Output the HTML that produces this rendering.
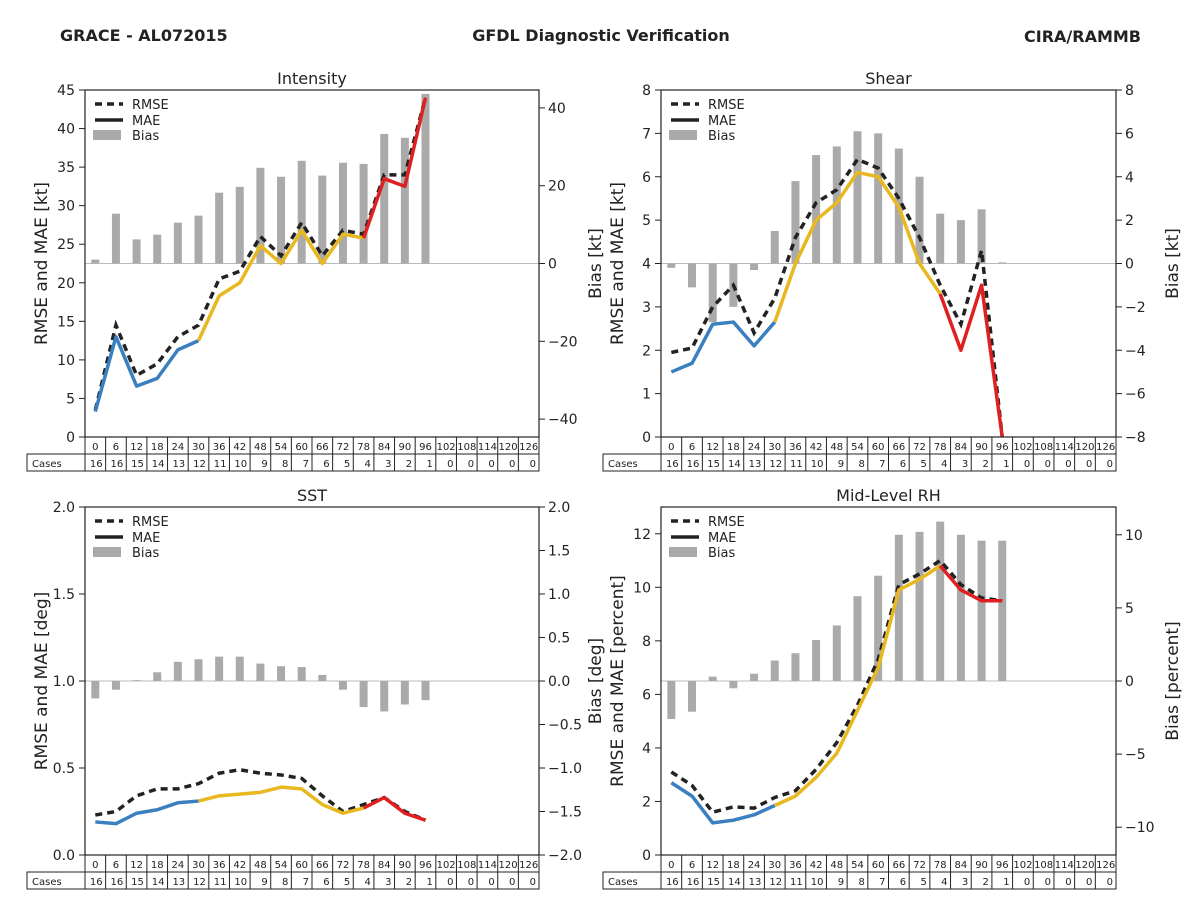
<!DOCTYPE html>
<html><head><meta charset="utf-8"><style>
body{margin:0;background:#fff;}
svg{display:block;font-family:"DejaVu Sans","Liberation Sans",sans-serif;}
</style></head><body>
<svg id="fig" width="1200" height="900" viewBox="0 0 1200 900">
<text x="60" y="41" font-size="16" font-weight="bold" fill="#222">GRACE - AL072015</text>
<text x="601" y="41" font-size="16" font-weight="bold" fill="#222" text-anchor="middle">GFDL Diagnostic Verification</text>
<text x="1141" y="42" font-size="16" font-weight="bold" fill="#222" text-anchor="end">CIRA/RAMMB</text>
</svg>
<script>
const hours=[0,6,12,18,24,30,36,42,48,54,60,66,72,78,84,90,96,102,108,114,120,126];
const cases=[16,16,15,14,13,12,11,10,9,8,7,6,5,4,3,2,1,0,0,0,0,0];
const intRmse=[3.5,14.5,8,9.5,13,14.5,20.5,21.5,26,23.5,27.8,23.5,26.8,26.3,34,34,44];
const intMae=[3.3,13,6.6,7.6,11.3,12.5,18.3,20,24.8,22.5,26.8,22.5,26.3,25.8,33.5,32.5,44];
const intBias=[1,12.8,6.2,7.4,10.5,12.3,18.2,19.7,24.6,22.3,26.4,22.6,25.9,25.6,33.3,32.3,43.6];
const shrRmse=[1.95,2.05,3.0,3.5,2.4,3.2,4.6,5.4,5.7,6.4,6.2,5.5,4.6,3.5,2.6,4.3,0];
const shrMae=[1.5,1.7,2.6,2.65,2.1,2.65,4.0,5.0,5.4,6.1,6.0,5.3,4.0,3.3,2.0,3.5,0];
const shrBias=[-0.2,-1.1,-2.7,-2.0,-0.3,1.5,3.8,5.0,5.4,6.1,6.0,5.3,4.0,2.3,2.0,2.5,0.05];
const sstRmse=[0.23,0.25,0.34,0.38,0.38,0.41,0.47,0.49,0.47,0.46,0.44,0.34,0.25,0.29,0.33,0.25,0.2];
const sstMae=[0.19,0.18,0.24,0.26,0.30,0.31,0.34,0.35,0.36,0.39,0.38,0.29,0.24,0.27,0.33,0.24,0.2];
const sstBias=[-0.2,-0.1,0.01,0.1,0.22,0.25,0.28,0.28,0.2,0.17,0.16,0.07,-0.1,-0.3,-0.35,-0.27,-0.22];
const rhRmse=[3.1,2.6,1.6,1.8,1.75,2.15,2.4,3.2,4.2,5.6,7.3,10.1,10.5,11.0,10.1,9.6,9.5];
const rhMae=[2.7,2.2,1.2,1.3,1.5,1.85,2.2,2.9,3.8,5.4,7.0,9.9,10.3,10.8,9.9,9.5,9.5];
const rhBias=[-2.6,-2.1,0.3,-0.5,0.5,1.4,1.9,2.8,3.8,5.8,7.2,10.0,10.2,10.9,10.0,9.6,9.6];

const NS='http://www.w3.org/2000/svg';
const svg=document.getElementById('fig');
function mk(tag,attrs,parent,name,inter){const e=document.createElementNS(NS,tag);for(const k in attrs)e.setAttribute(k,attrs[k]);


(parent||svg).appendChild(e);return e;}
function fmt(v,d){let s=v.toFixed(d);if(v<0)s='\u2212'+s.slice(1);return s;}

function panel(p){
  const g=mk('g',{},svg,'panel-'+p.id,false);
  const L=p.x0,R=p.x1,T=p.y0,B=p.y1,W=R-L,cw=W/22;
  const xs=i=>L+cw*(i+0.5);
  const yl=v=>B-(v-0)/(p.lmax)*(B-T);
  const yr=v=>B-(v-p.rmin)/(p.rmax-p.rmin)*(B-T);
  const t=mk('text',{x:(L+R)/2,y:T-6,'font-size':16,'text-anchor':'middle',fill:'#222'},g,'panel-title',false);t.textContent=p.title;
  // bars
  const zero=yr(0);
  mk('line',{x1:L,x2:R,y1:zero,y2:zero,stroke:'#bbb','stroke-width':1},g,'bias-zero-line',false);
  p.bias.forEach((v,i)=>{const y=yr(v);
    mk('rect',{x:xs(i)-4,y:Math.min(y,zero),width:8,height:Math.abs(y-zero),fill:'#aaa'},g,'bias-bar-'+hours[i],false);});
  // rmse
  const pts=p.rmse.map((v,i)=>xs(i)+','+yl(v)).join(' ');
  mk('polyline',{points:pts,fill:'none',stroke:'#222','stroke-width':3.5,'stroke-dasharray':'7,5'},g,'rmse-line',false);
  // mae segments
  const segs=[[0,5,'#3a7fc0'],[5,13,'#e8b820'],[13,16,'#e02020']];
  segs.forEach(s=>{const a=[];for(let i=s[0];i<=s[1];i++)a.push(xs(i)+','+yl(p.mae[i]));
    mk('polyline',{points:a.join(' '),fill:'none',stroke:s[2],'stroke-width':3.5,'stroke-linejoin':'round'},g,'mae-line-segment',false);});
  mk('rect',{x:L,y:T,width:W,height:B-T,fill:'none',stroke:'#222','stroke-width':1.2},g,'plot-frame',false);
  // left ticks
  p.lticks.forEach(v=>{const y=yl(v);
    mk('line',{x1:L-6,x2:L,y1:y,y2:y,stroke:'#222'},g,'left-tick',false);
    const tx=mk('text',{x:L-10,y:y+5,'font-size':14,'text-anchor':'end',fill:'#222'},g,'left-tick-label',false);tx.textContent=fmt(v,p.ld);});
  p.rticks.forEach(v=>{const y=yr(v);
    mk('line',{x1:R,x2:R+6,y1:y,y2:y,stroke:'#222'},g,'right-tick',false);
    const tx=mk('text',{x:R+9,y:y+5,'font-size':14,fill:'#222'},g,'right-tick-label',false);tx.textContent=fmt(v,p.rd);});
  const ly=mk('text',{x:0,y:0,'font-size':17,'text-anchor':'middle',fill:'#222',transform:`translate(${L-38},${(T+B)/2}) rotate(-90)`},g,'left-axis-title',false);ly.textContent=p.ltitle;
  const ry=mk('text',{x:0,y:0,'font-size':17,'text-anchor':'middle',fill:'#222',transform:`translate(${R+62},${(T+B)/2}) rotate(-90)`},g,'right-axis-title',false);ry.textContent=p.rtitle;
  // legend
  const lg=mk('g',{},g,'legend',false);
  mk('line',{x1:L+10,x2:L+38,y1:T+14,y2:T+14,stroke:'#222','stroke-width':3.5,'stroke-dasharray':'7,5'},lg,'legend-rmse-swatch',false);
  mk('line',{x1:L+10,x2:L+38,y1:T+30,y2:T+30,stroke:'#222','stroke-width':3.5},lg,'legend-mae-swatch',false);
  mk('rect',{x:L+8,y:T+40,width:28,height:10,fill:'#aaa'},lg,'legend-bias-swatch',false);
  [['RMSE',T+19],['MAE',T+35],['Bias',T+50]].forEach(a=>{const tx=mk('text',{x:L+47,y:a[1],'font-size':13,fill:'#222'},lg,'legend-entry',false);tx.textContent=a[0];});
  // table
  const tb=mk('g',{},g,'cases-table',false);
  const r1=B,r2=B+17,r3=B+34;
  mk('rect',{x:L,y:r1,width:W,height:17,fill:'none',stroke:'#222'},tb,'hours-row',false);
  mk('rect',{x:L-58,y:r2,width:W+58,height:17,fill:'none',stroke:'#222'},tb,'cases-row',false);
  mk('line',{x1:L,x2:L,y1:r2,y2:r3,stroke:'#222'},tb,'cell-border',false);
  const cl=mk('text',{x:L-53,y:r2+13,'font-size':10,fill:'#222'},tb,'cases-label',false);cl.textContent='Cases';
  hours.forEach((h,i)=>{const x=L+cw*i;
    if(i>0)mk('line',{x1:x,x2:x,y1:r1,y2:r3,stroke:'#222'},tb,'cell-border',false);
    const a=mk('text',{x:x+cw/2,y:r1+13,'font-size':10,'text-anchor':'middle',fill:'#222'},tb,'hour-cell',false);a.textContent=h;
    const b=mk('text',{x:x+cw-3,y:r2+13,'font-size':10,'text-anchor':'end',fill:'#222'},tb,'case-cell',false);b.textContent=cases[i];});
}
function rng(a,b,s){const r=[];for(let v=a;v<=b+1e-9;v+=s)r.push(+v.toFixed(4));return r;}
panel({id:'intensity',title:'Intensity',x0:85,x1:539,y0:90,y1:437,lmax:45,rmin:-44.6,rmax:44.6,lticks:rng(0,45,5),ld:0,rticks:[-40,-20,0,20,40],rd:0,rmse:intRmse,mae:intMae,bias:intBias,ltitle:'RMSE and MAE [kt]',rtitle:'Bias [kt]'});
panel({id:'shear',title:'Shear',x0:661,x1:1116,y0:90,y1:437,lmax:8,rmin:-8,rmax:8,lticks:rng(0,8,1),ld:0,rticks:rng(-8,8,2),rd:0,rmse:shrRmse,mae:shrMae,bias:shrBias,ltitle:'RMSE and MAE [kt]',rtitle:'Bias [kt]'});
panel({id:'sst',title:'SST',x0:85,x1:539,y0:507,y1:855,lmax:2,rmin:-2,rmax:2,lticks:rng(0,2,0.5),ld:1,rticks:rng(-2,2,0.5),rd:1,rmse:sstRmse,mae:sstMae,bias:sstBias,ltitle:'RMSE and MAE [deg]',rtitle:'Bias [deg]'});
panel({id:'rh',title:'Mid-Level RH',x0:661,x1:1116,y0:507,y1:855,lmax:13,rmin:-11.9,rmax:11.9,lticks:rng(0,12,2),ld:0,rticks:[-10,-5,0,5,10],rd:0,rmse:rhRmse,mae:rhMae,bias:rhBias,ltitle:'RMSE and MAE [percent]',rtitle:'Bias [percent]'});
</script>
</body></html>
